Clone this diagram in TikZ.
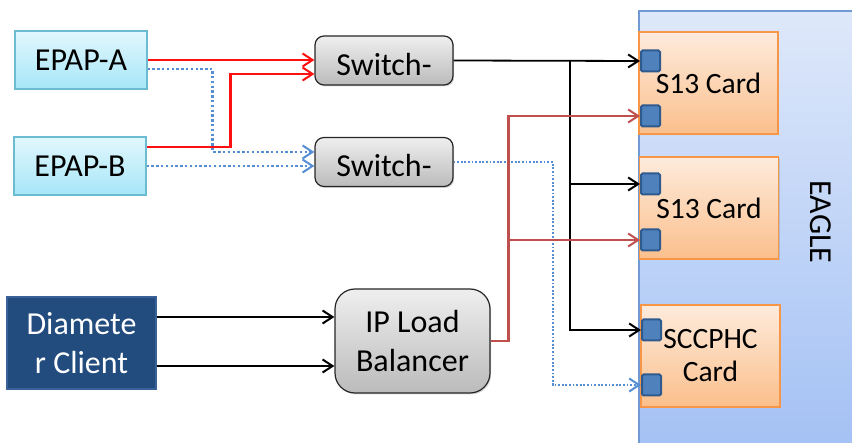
\documentclass[tikz,border=0pt]{standalone}
\usepackage{fontspec}
\setmainfont{Carlito}
\usetikzlibrary{arrows.meta,shadows,calc}
\definecolor{epapborder}{HTML}{6BBCD0}
\definecolor{epaptop}{HTML}{E2F7FD}
\definecolor{epapbot}{HTML}{A6E6F8}
\definecolor{swtop}{HTML}{EFEFEF}
\definecolor{swbot}{HTML}{BBBBBB}
\definecolor{cardborder}{HTML}{F79646}
\definecolor{cardtop}{HTML}{FDEBDC}
\definecolor{cardbot}{HTML}{FBBF8C}
\definecolor{portfill}{HTML}{4F81BD}
\definecolor{portborder}{HTML}{2F5A8E}
\definecolor{eagletop}{HTML}{DEE8FA}
\definecolor{eaglebot}{HTML}{A2C0F4}
\definecolor{eagleborder}{HTML}{6F9AD3}
\definecolor{diamfill}{HTML}{224B7E}
\definecolor{diamborder}{HTML}{3A6298}
\definecolor{redA}{HTML}{FF1010}
\definecolor{redB}{HTML}{C0504D}
\definecolor{bluedot}{HTML}{558ED5}
\begin{document}
\begin{tikzpicture}[x=1pt,y=-1pt,
  bigfont/.style={font=\fontsize{32}{39}\selectfont},
  cardfont/.style={font=\fontsize{29.5}{33}\selectfont},
  shad/.style={drop shadow={shadow xshift=1.2pt,shadow yshift=-1.5pt,opacity=0.3}},
  epapbox/.style={draw=epapborder,line width=1.2pt,top color=epaptop,bottom color=epapbot,
    minimum width=132pt,minimum height=58pt,inner sep=0pt,bigfont,shad},
  swbox/.style={draw=black!85,line width=1.2pt,top color=swtop,bottom color=swbot,rounded corners=9pt,
    minimum width=138pt,minimum height=49pt,inner sep=0pt,bigfont,shad},
  lbbox/.style={draw=black!85,line width=1.2pt,top color=swtop,bottom color=swbot,rounded corners=20pt,
    minimum width=155pt,minimum height=104pt,inner sep=0pt,bigfont,align=center,shad},
  diambox/.style={draw=diamborder,line width=1.4pt,fill=diamfill,text=white,
    minimum width=149pt,minimum height=92pt,inner sep=0pt,bigfont,align=center,shad},
  cardbox/.style={draw=cardborder,line width=1.2pt,top color=cardtop,bottom color=cardbot,
    minimum width=139pt,minimum height=102pt,inner sep=0pt,cardfont,align=center,shad},
  portbox/.style={draw=portborder,fill=portfill,line width=2pt,rounded corners=1.5pt,
    minimum width=19pt,minimum height=21pt,inner sep=0pt},
  tip/.style={-{Straight Barb[length=10pt,width=13pt,line width=2pt]}},
  redline/.style={draw=redA,line width=2.6pt,tip},
  redline2/.style={draw=redB,line width=2.6pt,tip},
  blackline/.style={draw=black,line width=1.8pt,tip},
  bluedots/.style={draw=bluedot,line width=2.6pt,dash pattern=on 2.4pt off 2.4pt,tip},
  bluedotsthin/.style={draw=bluedot,line width=1.8pt,dash pattern=on 1.8pt off 1.8pt,tip}
]
\clip (0,0) rectangle (852,443);
% EAGLE chassis
\node[draw=eagleborder,line width=1.4pt,top color=eagletop,bottom color=eaglebot,
  minimum width=231pt,minimum height=449pt,inner sep=0pt] (eagle) at (754.5,235.5) {};
\node[rotate=-90,font=\fontsize{32}{36}\selectfont] (eaglelabel) at (821,222) {EAGLE};
% cards
\node[cardbox] (card1) at (708.5,83) {S13 Card};
\node[cardbox] (card2) at (709,208) {S13 Card};
\node[cardbox] (card3) at (710.5,356) {SCCPHC\\Card};
% ports
\node[portbox] (p1a) at (650.5,61) {};
\node[portbox] (p1b) at (650.5,116) {};
\node[portbox] (p2a) at (650.5,184) {};
\node[portbox] (p2b) at (650.5,240) {};
\node[portbox] (p3a) at (651.5,330) {};
\node[portbox] (p3b) at (651.5,385) {};
% left boxes
\node[epapbox] (epapA) at (81,60) {EPAP-A};
\node[epapbox] (epapB) at (80,166) {EPAP-B};
\node[swbox] (sw1) at (384,60.5) {\smash{\raisebox{-15pt}{Switch-}}};
\node[swbox] (sw2) at (384,162) {\smash{\raisebox{-15pt}{Switch-}}};
\node[diambox] (diam) at (81.5,343) {Diamete\\r Client};
\node[lbbox] (lb) at (412.5,341) {IP Load\\Balancer};
% EPAP -> switches
\draw[bluedots] ([yshift=-9pt]epapA.east) -- ++(65,0) |- ([yshift=10pt]sw2.west);
\draw[bluedots] (epapB.east) -- (sw2.west |- epapB.east);
\draw[redline] (epapA.east) -- (sw1.west |- epapA.east);
\draw[redline] ([yshift=19pt]epapB.east) -- ++(84,0) |- ([yshift=-13.5pt]sw1.west);
% switch 2 -> SCCPHC
\draw[bluedotsthin] (sw2.east) -- ++(99,0) |- (p3b.west);
% switch 1 -> cards
\coordinate (j) at ($(sw1.east)+(116,0)$);
\draw[blackline] (sw1.east) -- (p1a.west);
\draw[blackline] (j) |- (p3a.west);
\draw[blackline] (j |- p2a.west) -- (p2a.west);
% load balancer -> cards
\coordinate (k) at ($(lb.east)+(18,0)$);
\draw[redline2] (lb.east) -- (k) |- (p1b.west);
\draw[redline2] (k |- p2b.west) -- (p2b.west);
% diameter -> load balancer
\coordinate (d1) at ([yshift=26pt]diam.east);
\coordinate (d2) at ([yshift=-23pt]diam.east);
\draw[blackline] (d1) -- (d1 -| lb.west);
\draw[blackline] (d2) -- (d2 -| lb.west);
\end{tikzpicture}
\end{document}
